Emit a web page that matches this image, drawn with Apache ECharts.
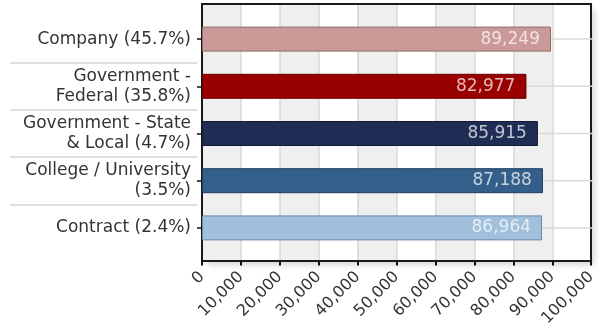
<!DOCTYPE html>
<html>
<head>
<meta charset="utf-8">
<script src="https://cdn.jsdelivr.net/npm/echarts@6/dist/echarts.min.js"></script>
<style>
  html, body { margin: 0; padding: 0; background: #fff; }
  #chart { width: 599px; height: 329px; }
</style>
</head>
<body>
<div id="chart"></div>
<script>
// Employer type with share of respondents, and the average salary for each
const categories = [
  'Company (45.7%)',
  'Government -\nFederal (35.8%)',
  'Government - State\n& Local (4.7%)',
  'College / University\n(3.5%)',
  'Contract (2.4%)'
];
const salaries = [89249, 82977, 85915, 87188, 86964];
const fillColors = ['#cc9999', '#990000', '#1f2d55', '#335f8a', '#a0c0dc'];
const edgeColors = ['#8f6b6b', '#660000', '#111a36', '#1f3d60', '#6a8aa8'];

// Salary axis range and step (tick labels 0 … 100,000)
const axisMin = 0;
const axisMax = 100000;
const axisStep = 10000;

const FONT = 'DejaVu Sans, Verdana, sans-serif';

const chart = echarts.init(document.getElementById('chart'), null, { renderer: 'canvas' });

const barData = salaries.map((v, i) => ({
  value: v,
  itemStyle: { color: fillColors[i], borderColor: edgeColors[i], borderWidth: 1 }
}));

const frameLine = { show: true, onZero: false, lineStyle: { color: '#1a1a1a', width: 2 } };
const hidden = { show: false };

const option = {
  animation: false,
  grid: [
    // framed plot area with column bands
    {
      left: 202, top: 4, width: 391, height: 262,
      show: true, backgroundColor: '#ffffff', borderWidth: 0,
      shadowColor: 'rgba(0,0,0,0.18)', shadowBlur: 7, shadowOffsetX: 4, shadowOffsetY: 5
    },
    // bar rows
    { left: 202, top: 15.5, width: 391, height: 236 },
    // separators between category labels
    { left: 10, top: 15.5, width: 187, height: 236 }
  ],
  xAxis: [
    {
      gridIndex: 0, type: 'value', min: axisMin, max: axisMax, interval: axisStep,
      axisLine: frameLine,
      axisTick: { show: true, length: 5, lineStyle: { color: '#111', width: 2 } },
      axisLabel: { rotate: 45, fontSize: 16, fontFamily: FONT, color: '#333', margin: 14,
        formatter: v => v.toLocaleString('en-US') },
      splitLine: { show: true, lineStyle: { color: '#d9d9d9', width: 1.5 } },
      splitArea: { show: true, areaStyle: { color: ['#efefef', '#ffffff'] } }
    },
    // top edge of the frame
    {
      gridIndex: 0, type: 'value', position: 'top', min: axisMin, max: axisMax,
      axisLine: frameLine, axisTick: hidden, axisLabel: hidden, splitLine: hidden
    },
    { gridIndex: 1, type: 'value', min: axisMin, max: axisMax, show: false },
    { gridIndex: 2, type: 'value', min: 0, max: 1, show: false }
  ],
  yAxis: [
    {
      gridIndex: 0, type: 'value', min: 0, max: 1,
      axisLine: frameLine, axisTick: hidden, axisLabel: hidden, splitLine: hidden
    },
    // right edge of the frame
    {
      gridIndex: 0, type: 'value', position: 'right', min: 0, max: 1,
      axisLine: frameLine, axisTick: hidden, axisLabel: hidden, splitLine: hidden
    },
    {
      gridIndex: 1, type: 'category', inverse: true, data: categories,
      axisLine: hidden,
      axisTick: { show: true, alignWithLabel: true, length: 5, lineStyle: { color: '#111', width: 1.5 } },
      axisLabel: { fontSize: 17, fontFamily: FONT, color: '#333', margin: 11, lineHeight: 20, align: 'right' },
      splitLine: hidden
    },
    {
      gridIndex: 2, type: 'category', inverse: true, data: categories,
      axisLine: hidden, axisTick: hidden, axisLabel: hidden,
      splitLine: { show: true, showMinLine: false, showMaxLine: false,
        lineStyle: { color: '#d4d4d4', width: 1.5 } }
    }
  ],
  series: [
    {
      // faint guide line through the middle of each row
      type: 'custom', xAxisIndex: 2, yAxisIndex: 2, z: 1, silent: true,
      data: categories.map(c => [c]),
      renderItem: function (params, api) {
        const y = api.coord([axisMin, api.value(0)])[1];
        const cs = params.coordSys;
        return {
          type: 'line',
          shape: { x1: cs.x, y1: y, x2: cs.x + cs.width, y2: y },
          style: { stroke: '#d9d9d9', lineWidth: 1.5 }
        };
      },
      encode: { y: 0 }
    },
    {
      type: 'bar', xAxisIndex: 2, yAxisIndex: 2, z: 3,
      barWidth: 25,
      data: barData,
      label: {
        show: true, position: 'insideRight', distance: 11,
        fontSize: 17, fontFamily: FONT, color: 'rgba(255,255,255,0.72)',
        formatter: p => p.value.toLocaleString('en-US')
      }
    }
  ]
};

chart.setOption(option);
</script>
</body>
</html>
